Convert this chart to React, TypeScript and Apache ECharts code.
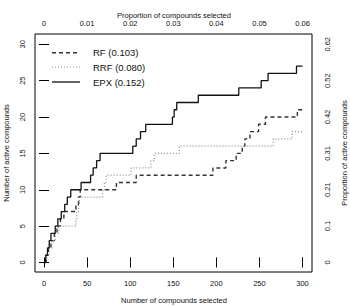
import React, { useEffect, useRef } from 'react';
import * as echarts from 'echarts';

const xTicks = [0, 50, 100, 150, 200, 250, 300];
const topTickLabels = ['0', '0.01', '0.02', '0.03', '0.04', '0.05', '0.06'];
const yTicks = [0, 5, 10, 15, 20, 25, 30];
const rightTickLabels = ['0', '0.1', '0.21', '0.31', '0.42', '0.52', '0.62'];

// rank (number of compounds selected) at which each active compound was found
const rfHits = [2, 5, 8, 12, 15, 19, 23, 37, 40, 42, 84, 107, 196, 211, 223, 230, 233, 239, 249, 257, 294];
const rrfHits = [3, 6, 9, 13, 17, 37, 38, 40, 41, 68, 70, 72, 101, 124, 128, 157, 266, 288];
const epxHits = [2, 4, 6, 8, 13, 16, 20, 24, 27, 31, 43, 54, 57, 61, 65, 103, 107, 112, 118, 149, 151, 154, 179, 226, 252, 260, 293];
const seriesNames = ['RF (0.103)', 'RRF (0.080)', 'EPX (0.152)'];
const nSelected = 300;

const FONT = 'Liberation Sans, Arial, sans-serif';

function cumulative(hits: number[]): number[][] {
  const pts: number[][] = [[1, 0]];
  hits.forEach((r, i) => pts.push([r, i + 1]));
  pts.push([nSelected, hits.length]);
  return pts;
}

const styles = [
  { color: '#333', width: 1.4, type: [4, 3] as any },
  { color: '#8a8a8a', width: 1.2, type: [1, 2] as any },
  { color: '#111', width: 1.3, type: 'solid' as any },
];

export default function App() {
  const ref = useRef<HTMLDivElement>(null);
  useEffect(() => {
    if (!ref.current) return;
    const chart = echarts.init(ref.current, null, { renderer: 'svg' });
    const seriesData = [cumulative(rfHits), cumulative(rrfHits), cumulative(epxHits)];
    const tickLabel = { fontFamily: FONT, fontSize: 7.5, color: '#111' };
    const legendRows = [52.7, 67, 82];
    const graphic: any[] = [
      { type: 'text', x: 174, y: 15, style: { text: 'Proportion of compounds selected', font: `7.5px ${FONT}`, fill: '#111', align: 'center', verticalAlign: 'middle' } },
      { type: 'text', x: 174, y: 300, style: { text: 'Number of compounds selected', font: `7.5px ${FONT}`, fill: '#111', align: 'center', verticalAlign: 'middle' } },
      { type: 'text', x: 6, y: 153, rotation: Math.PI / 2, style: { text: 'Number of active compounds', font: `7.5px ${FONT}`, fill: '#111', align: 'center', verticalAlign: 'middle' } },
      { type: 'text', x: 344, y: 153, rotation: Math.PI / 2, style: { text: 'Proportion of active compounds', font: `7.5px ${FONT}`, fill: '#111', align: 'center', verticalAlign: 'middle' } },
    ];
    seriesNames.forEach((name, i) => {
      graphic.push({ type: 'line', shape: { x1: 52, y1: legendRows[i], x2: 80, y2: legendRows[i] }, style: { stroke: styles[i].color, lineWidth: styles[i].width, lineDash: Array.isArray(styles[i].type) ? styles[i].type : null } });
      graphic.push({ type: 'text', x: 93, y: legendRows[i], style: { text: name, font: `9.5px ${FONT}`, fill: '#111', align: 'left', verticalAlign: 'middle' } });
    });
    chart.setOption({
      animation: false,
      backgroundColor: '#fff',
      grid: { left: 35, right: 38, top: 34, bottom: 34, show: true, borderColor: '#000', borderWidth: 1, backgroundColor: 'transparent' },
      xAxis: [
        {
          type: 'value', position: 'bottom', min: -10.5, max: 311,
          axisLine: { show: false }, splitLine: { show: false },
          axisTick: { show: true, inside: false, length: 5, lineStyle: { color: '#000' }, customValues: xTicks },
          axisLabel: { ...tickLabel, margin: 7, customValues: xTicks, formatter: (v: number) => String(v) },
        },
        {
          type: 'value', position: 'top', min: -10.5, max: 311,
          axisLine: { show: false }, splitLine: { show: false },
          axisTick: { show: true, inside: false, length: 5, lineStyle: { color: '#000' }, customValues: xTicks },
          axisLabel: { ...tickLabel, margin: 7, customValues: xTicks, formatter: (v: number) => topTickLabels[xTicks.indexOf(v)] ?? '' },
        },
      ],
      yAxis: [
        {
          type: 'value', position: 'left', min: -1.31, max: 31.42,
          axisLine: { show: false }, splitLine: { show: false },
          axisTick: { show: true, inside: false, length: 5, lineStyle: { color: '#000' }, customValues: yTicks },
          axisLabel: { ...tickLabel, margin: 9, rotate: 90, customValues: yTicks, formatter: (v: number) => String(v) },
        },
        {
          type: 'value', position: 'right', min: -1.31, max: 31.42,
          axisLine: { show: false }, splitLine: { show: false },
          axisTick: { show: true, inside: false, length: 5, lineStyle: { color: '#000' }, customValues: yTicks },
          axisLabel: { ...tickLabel, margin: 11, rotate: 90, customValues: yTicks, formatter: (v: number) => rightTickLabels[yTicks.indexOf(v)] ?? '' },
        },
      ],
      series: seriesNames.map((name, i) => ({
        name, type: 'line', step: 'end', showSymbol: false, symbol: 'none',
        xAxisIndex: 0, yAxisIndex: 0,
        data: seriesData[i],
        lineStyle: { color: styles[i].color, width: styles[i].width, type: styles[i].type },
        z: 3 + i,
      })),
      graphic,
    });
    return () => chart.dispose();
  }, []);
  return <div ref={ref} style={{ position: 'fixed', left: 0, top: 0, width: 350, height: 306 }} />;
}
